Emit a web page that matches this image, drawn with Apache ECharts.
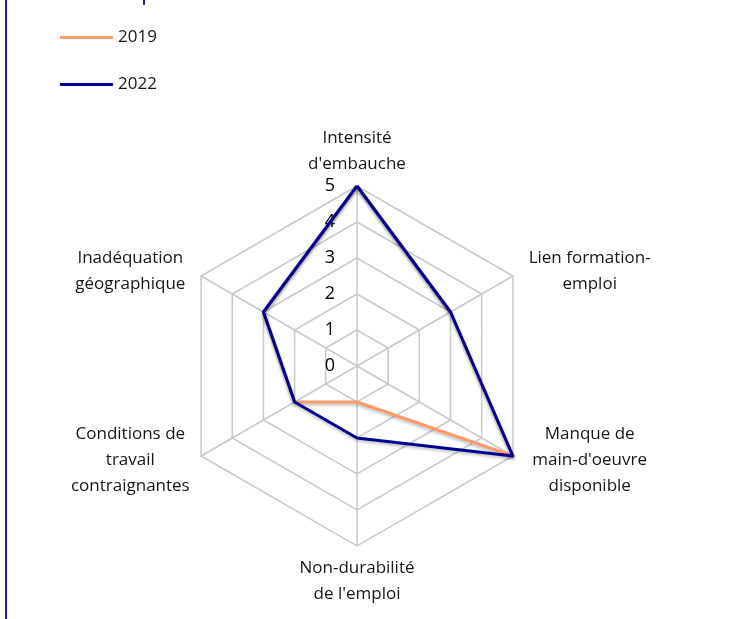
<!DOCTYPE html>
<html>
<head>
<meta charset="utf-8">
<script src="https://cdn.jsdelivr.net/npm/echarts@6/dist/echarts.min.js"></script>
<style>
  html, body { margin: 0; padding: 0; background: #fff; }
  #radarChart { width: 734px; height: 619px; }
</style>
</head>
<body>
<div id="radarChart"></div>
<script>
// indicateurs du radar, dans l'ordre où echarts les pose (sens antihoraire depuis le haut)
let indicators = [
  "Intensité\nd'embauche",
  "Inadéquation\ngéographique",
  "Conditions de\ntravail\ncontraignantes",
  "Non-durabilité\nde l'emploi",
  "Manque de\nmain-d'oeuvre\ndisponible",
  "Lien formation-\nemploi",
];
let years = ["2019", "2022"];
let data2019 = [5, 3, 2, 1, 5, 3];
let data2022 = [5, 3, 2, 2, 5, 3];
let maxValue = 5;

let chart = echarts.init(document.getElementById("radarChart"));
let font = "'Open Sans', 'Noto Sans', sans-serif";

let option = {
  backgroundColor: "#fff",
  textStyle: { fontFamily: font },
  graphic: [
    // bordure bleue de la page
    { type: "rect", left: 5, top: 0, shape: { width: 2, height: 619 }, style: { fill: "#1f1fa0" } },
    { type: "rect", left: 143, top: 0, shape: { width: 2, height: 5 }, style: { fill: "#1f1fa0" } },
  ],
  legend: {
    data: years,
    orient: "vertical",
    left: 55,
    top: 24,
    icon: "rect",
    itemWidth: 53,
    itemHeight: 3,
    itemGap: 30,
    textStyle: { color: "#161616", fontSize: 17, fontFamily: font },
  },
  radar: {
    center: [357, 366],
    radius: 180,
    startAngle: 90,
    splitNumber: 5,
    shape: "polygon",
    nameGap: 9,
    axisName: {
      color: "#161616",
      fontSize: 17,
      fontFamily: font,
      lineHeight: 26,
      formatter: function (name) {
        let i = indicators.indexOf(name);
        let style = i === 1 || i === 2 ? "l" : "r";
        return name
          .split("\n")
          .map(function (s) { return "{" + style + "|" + s + "}"; })
          .join("\n");
      },
      rich: {
        l: { width: 126, align: "center", fontSize: 17, lineHeight: 26, color: "#161616", fontFamily: font },
        r: { width: 138, align: "center", fontSize: 17, lineHeight: 26, color: "#161616", fontFamily: font },
      },
    },
    axisLine: { lineStyle: { color: "#c9c9c9", width: 1.5 } },
    splitLine: { lineStyle: { color: "#c9c9c9", width: 1.5 } },
    splitArea: { show: false },
    indicator: indicators.map(function (name, i) {
      return {
        name: name,
        min: 0,
        max: maxValue,
        axisLabel: {
          show: i === 0,
          color: "#000",
          fontSize: 18,
          margin: 22,
          fontFamily: font,
        },
      };
    }),
  },
  series: [
    {
      name: "radar",
      type: "radar",
      symbol: "none",
      data: [
        {
          name: years[0],
          value: data2019,
          lineStyle: {
            color: "#fb9a6c",
            width: 3,
            shadowColor: "rgba(0,0,0,0.25)",
            shadowBlur: 3,
            shadowOffsetY: 2,
          },
          itemStyle: { color: "#fb9a6c" },
        },
        {
          name: years[1],
          value: data2022,
          lineStyle: {
            color: "#000091",
            width: 3,
            shadowColor: "rgba(0,0,0,0.25)",
            shadowBlur: 3,
            shadowOffsetY: 2,
          },
          itemStyle: { color: "#000091" },
        },
      ],
    },
  ],
};
chart.setOption(option);
</script>
</body>
</html>
